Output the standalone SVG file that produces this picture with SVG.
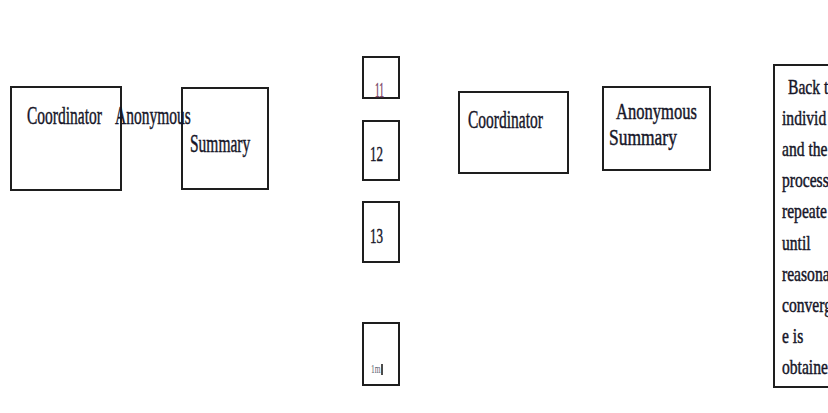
<svg xmlns="http://www.w3.org/2000/svg" width="828" height="413" viewBox="0 0 828 413">
<style>
.box{fill:#fff;stroke:#1e1e1e;stroke-width:2}
.t{font-family:"Liberation Serif","Times New Roman",serif;fill:#161628;stroke:#161628;stroke-width:0.45}
.big{font-size:25px}
.num{font-size:21px}
.body{font-size:20px}
</style>
<rect width="828" height="413" fill="#fff"/>
<g id="connectors"/>
<g id="coordinator-1">
<rect class="box" x="11" y="87" width="110" height="103"/>
<text class="t big" transform="translate(27,124) scale(0.62,1)">Coordinator</text>
</g>
<g id="summary-1">
<rect class="box" x="182" y="88" width="86" height="101"/>
<text class="t big" transform="translate(190,152) scale(0.62,1)">Summary</text>
</g>
<text id="anonymous-1" class="t big" transform="translate(115,124) scale(0.62,1)">Anonymous</text>
<g id="i1">
<rect class="box" x="363" y="57" width="36" height="41"/>
<text class="t num" transform="translate(375,97) scale(0.45,1)" style="fill:#7a4466;stroke:#7a4466">11</text>
</g>
<g id="i2">
<rect class="box" x="363" y="121" width="36" height="59"/>
<text class="t num" transform="translate(370,161) scale(0.62,1)">12</text>
</g>
<g id="i3">
<rect class="box" x="363" y="202" width="36" height="60"/>
<text class="t num" transform="translate(370,243) scale(0.62,1)">13</text>
</g>
<g id="im">
<rect class="box" x="363" y="323" width="36" height="62"/>
<text class="t" transform="translate(371,373) scale(0.62,1)" style="font-size:12px;fill:#5a6070;stroke:none">1m</text>
<line x1="382" y1="364" x2="382" y2="375" stroke="#111" stroke-width="1.5"/>
</g>
<g id="coordinator-2">
<rect class="box" x="459" y="92" width="109" height="81"/>
<text class="t big" transform="translate(468,128) scale(0.62,1)">Coordinator</text>
</g>
<g id="summary-2">
<rect class="box" x="603" y="87" width="107" height="83"/>
<text class="t" transform="translate(616,119) scale(0.72,1)" style="font-size:23px">Anonymous</text>
<text class="t" transform="translate(609,145) scale(0.76,1)" style="font-size:23px">Summary</text>
</g>
<g id="feedback">
<rect class="box" x="774" y="65" width="70" height="322"/>
<text class="t body" transform="translate(788,94) scale(0.78,1)">Back t</text>
<text class="t body" transform="translate(782,125) scale(0.78,1)">individ</text>
<text class="t body" transform="translate(782,156) scale(0.78,1)">and the</text>
<text class="t body" transform="translate(782,187) scale(0.78,1)">process</text>
<text class="t body" transform="translate(782,218) scale(0.78,1)">repeate</text>
<text class="t body" transform="translate(782,250) scale(0.78,1)">until</text>
<text class="t body" transform="translate(782,281) scale(0.78,1)">reasona</text>
<text class="t body" transform="translate(782,312) scale(0.78,1)">converg</text>
<text class="t body" transform="translate(782,343) scale(0.78,1)">e is</text>
<text class="t body" transform="translate(782,374) scale(0.78,1)">obtaine</text>
</g>
</svg>
